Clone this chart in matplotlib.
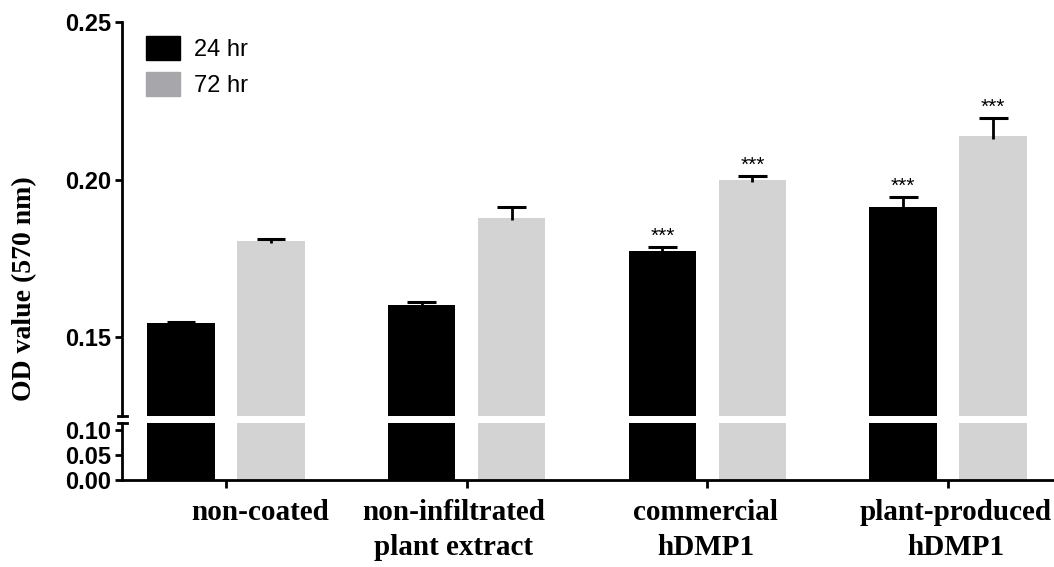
import matplotlib.pyplot as plt
import matplotlib.patches as mpatches
import matplotlib.transforms as mtransforms
import numpy as np

groups = ['non-coated', 'non-infiltrated\nplant extract', 'commercial\nhDMP1', 'plant-produced\nhDMP1']
od_24 = [0.1545, 0.1602, 0.1774, 0.1914]
err_24 = [0.0003, 0.0009, 0.0013, 0.0032]
od_72 = [0.1806, 0.1879, 0.2000, 0.2137]
err_72 = [0.0006, 0.0035, 0.0010, 0.0057]
stars_24 = ['', '', '***', '***']
stars_72 = ['', '', '***', '***']

black = '#000000'
grey = '#d3d3d3'
legend_grey = '#a7a6ab'

plt.rcParams['font.family'] = 'Liberation Sans'

fig = plt.figure(figsize=(10.54, 5.67), dpi=100)
left = 122 / 1054
ax_top = fig.add_axes([left, 1 - 416 / 567, 1 - left, (416 - 22) / 567])
ax_bot = fig.add_axes([left, 1 - 480 / 567, 1 - left, (480 - 423) / 567])

x = np.arange(len(groups))
off = 0.187
w = 0.28
cap = 0.06

for ax in (ax_top, ax_bot):
    ax.bar(x - off, od_24, w, color=black, zorder=2)
    ax.bar(x + off, od_72, w, color=grey, zorder=2)
    ax.set_xlim(-0.432, 3.44)
    for s in ('top', 'right'):
        ax.spines[s].set_visible(False)
    ax.spines['left'].set_linewidth(2)
    ax.tick_params(axis='y', direction='out', length=5, width=2, pad=3, labelsize=17)

# one-sided (upward) error bars and significance stars
for xs, vals, errs, stars in ((x - off, od_24, err_24, stars_24), (x + off, od_72, err_72, stars_72)):
    tops = np.array(vals) + np.array(errs)
    ax_top.vlines(xs, np.array(vals) - 0.0008, tops, color='black', lw=2, zorder=3)
    ax_top.hlines(tops, xs - cap, xs + cap, color='black', lw=2.2, zorder=3)
    for xi, t, s in zip(xs, tops, stars):
        if s:
            ax_top.text(xi, t + 0.0004, s, ha='center', va='bottom', fontsize=15)

ax_top.set_ylim(0.125, 0.25)
ax_top.set_yticks([0.15, 0.20, 0.25])
ax_top.set_yticklabels(['0.15', '0.20', '0.25'], fontweight='bold')
ax_top.spines['bottom'].set_visible(False)
ax_top.set_xticks([])

ax_bot.set_ylim(0, 0.114)
ax_bot.set_yticks([0.0, 0.05, 0.10])
ax_bot.set_yticklabels(['0.00', '0.05', '0.10'], fontweight='bold')
ax_bot.spines['bottom'].set_linewidth(2)
ax_bot.set_xticks(x)
ax_bot.set_xticklabels(groups, fontfamily='Liberation Serif', fontweight='bold', fontsize=21,
                       linespacing=1.38)
ax_bot.tick_params(axis='x', direction='out', length=6, width=2, pad=8)
shifts = [34, -13, -2, 8]
for lab, dx in zip(ax_bot.get_xticklabels(), shifts):
    lab.set_transform(lab.get_transform() + mtransforms.ScaledTranslation(dx / 100, 0, fig.dpi_scale_trans))

# break marks on the y axis
for ypx in (416, 423):
    fig.add_artist(plt.Line2D([118 / 1054, 127 / 1054], [1 - ypx / 567, 1 - ypx / 567],
                              color='black', lw=2))

fig.text(25 / 1054, 1 - 289 / 567, 'OD value (570 nm)', rotation=90, ha='center', va='center',
         fontfamily='Liberation Serif', fontweight='bold', fontsize=20)

handles = [mpatches.Patch(color=black, label='24 hr'),
           mpatches.Patch(color=legend_grey, label='72 hr')]
fig.legend(handles=handles, loc='upper left', bbox_to_anchor=(146 / 1054, 1 - 36 / 567),
           frameon=False, fontsize=17, handlelength=1.44, handleheight=1.19,
           handletextpad=0.6, labelspacing=0.45, borderpad=0, borderaxespad=0)

fig.savefig('out.png', dpi=100)
